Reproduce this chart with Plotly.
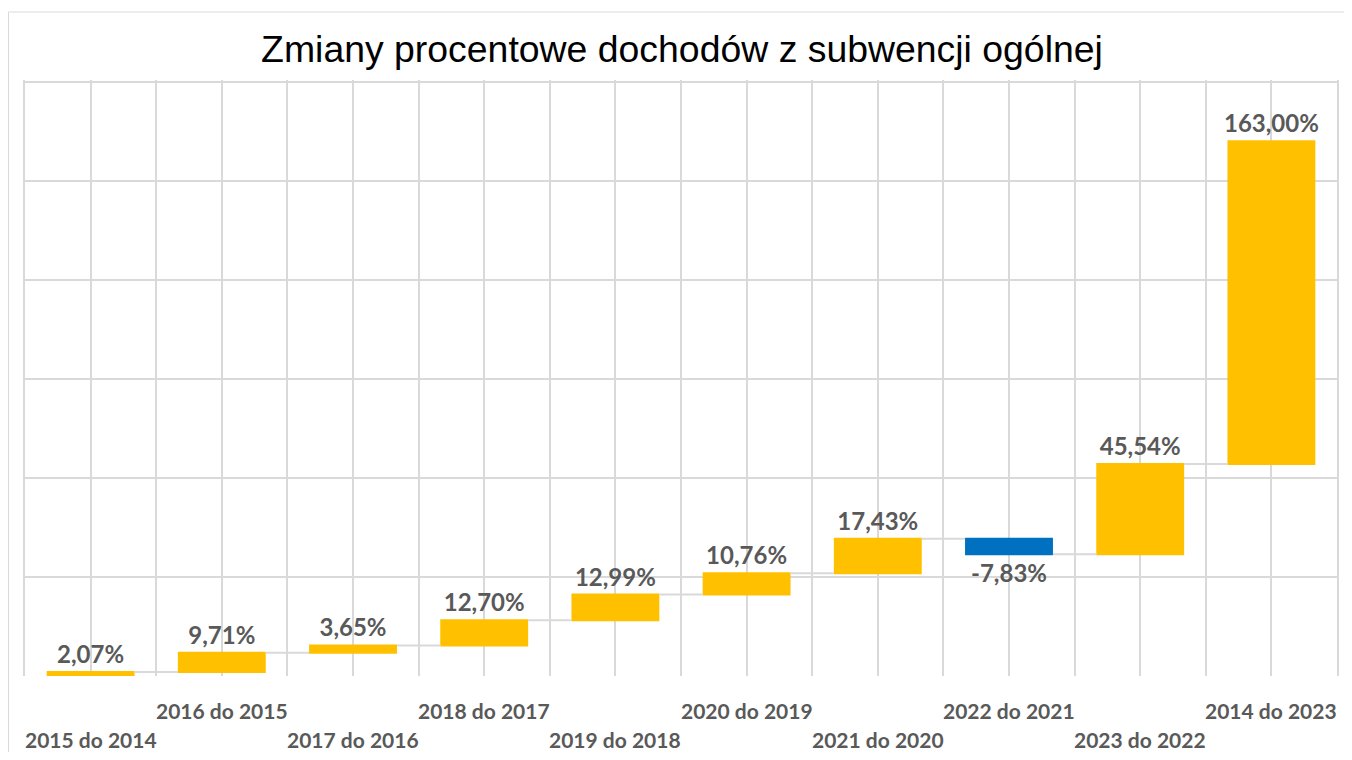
import plotly.graph_objects as go

categories = ["2015 do 2014", "2016 do 2015", "2017 do 2016", "2018 do 2017",
              "2019 do 2018", "2020 do 2019", "2021 do 2020", "2022 do 2021",
              "2023 do 2022", "2014 do 2023"]
values = [2.07, 9.71, 3.65, 12.70, 12.99, 10.76, 17.43, -7.83, 45.54, 163.00]
labels = ["2,07%", "9,71%", "3,65%", "12,70%", "12,99%", "10,76%", "17,43%",
          "-7,83%", "45,54%", "163,00%"]
y_ticks = [50, 100, 150, 200, 250, 300]

x_pos = list(range(len(categories)))

# figure is placed at page offset (8, 8) by the browser's body margin
W, H = 1336, 744
L, R, T, B = 17, 5, 72, 76
pw, ph = W - L - R, H - T - B
px_per_unit = 1.98
y_max = ph / px_per_unit

LABEL_FONT = "Lato"
GRAY = "#595959"
GRID = "#d9d9d9"

fig = go.Figure(go.Waterfall(
    x=x_pos,
    y=values,
    measure=["relative"] * len(values),
    text=labels,
    textposition="outside",
    constraintext="none",
    cliponaxis=False,
    textfont=dict(family=LABEL_FONT, size=24, color=GRAY, weight="bold"),
    increasing=dict(marker=dict(color="#FFC000", line=dict(width=0))),
    decreasing=dict(marker=dict(color="#0070C0", line=dict(width=0))),
    connector=dict(line=dict(color=GRID, width=2)),
    width=0.67,
    hoverinfo="skip",
))

annotations = []
for i, c in enumerate(categories):
    upper = (i % 2 == 1)
    py = 702 if upper else 731
    annotations.append(dict(
        x=i, xref="x", y=(H - B - py) / ph, yref="paper",
        text=c, showarrow=False, xanchor="center", yanchor="middle",
        font=dict(family=LABEL_FONT, size=21, color=GRAY, weight="bold"),
    ))

fig.update_layout(
    width=W, height=H,
    margin=dict(l=L, r=R, t=T, b=B, pad=0),
    paper_bgcolor="white", plot_bgcolor="white",
    showlegend=False,
    title=dict(text="Zmiany procentowe dochodów z subwencji ogólnej",
               font=dict(family="Liberation Sans", size=37.4, color="#000000"),
               x=(L + pw / 2) / W, xanchor="center",
               y=1 - 40.5 / H, yanchor="middle"),
    xaxis=dict(range=[-0.5, 9.5], tickmode="linear", tick0=-0.5, dtick=0.5,
               showticklabels=False, showgrid=True, gridcolor=GRID, gridwidth=2,
               zeroline=False, showline=False, ticks=""),
    yaxis=dict(range=[0, y_max], tickvals=y_ticks, showticklabels=False,
               showgrid=True, gridcolor=GRID, gridwidth=2,
               zeroline=False, showline=True, mirror=True,
               linecolor=GRID, linewidth=2, ticks=""),
    annotations=annotations,
    shapes=[dict(type="rect", xref="paper", yref="paper",
                 x0=(0.5 - L) / pw, x1=(W + 20 - L) / pw,
                 y0=(H - B - (H + 20)) / ph, y1=(H - B - 4) / ph,
                 line=dict(color=GRID, width=1), fillcolor="rgba(0,0,0,0)",
                 layer="below")],
)

fig.write_html("out.html")
